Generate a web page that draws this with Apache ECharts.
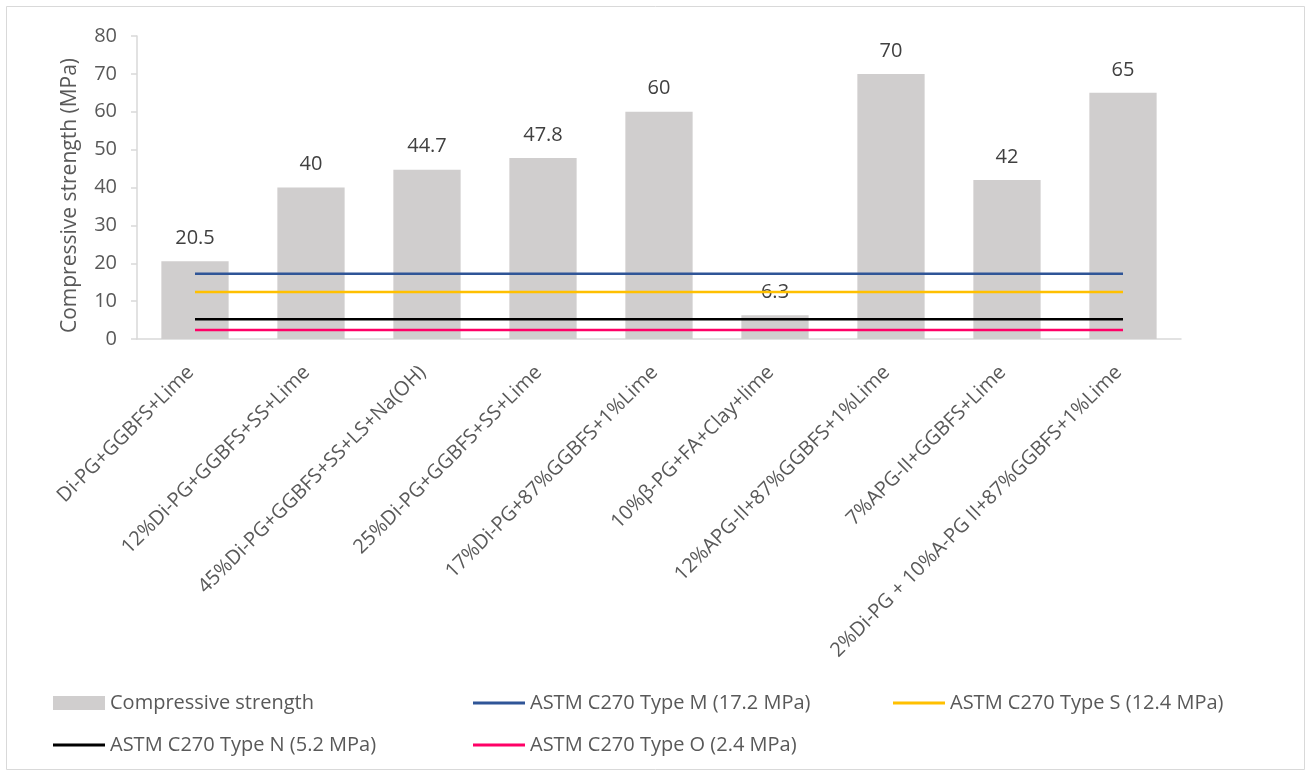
<!DOCTYPE html>
<html>
<head>
<meta charset="utf-8">
<script src="https://cdn.jsdelivr.net/npm/echarts@6/dist/echarts.min.js"></script>
<style>
  html, body { margin: 0; padding: 0; background: #fff; }
  #chart { width: 1311px; height: 776px; }
</style>
</head>
<body>
<div id="chart"></div>
<script>
// Mix designs (x categories)
var categories = [
  'Di-PG+GGBFS+Lime',
  '12%Di-PG+GGBFS+SS+Lime',
  '45%Di-PG+GGBFS+SS+LS+Na(OH)',
  '25%Di-PG+GGBFS+SS+Lime',
  '17%Di-PG+87%GGBFS+1%Lime',
  '10%β-PG+FA+Clay+lime',
  '12%APG-II+87%GGBFS+1%Lime',
  '7%APG-II+GGBFS+Lime',
  '2%Di-PG + 10%A-PG II+87%GGBFS+1%Lime'
];

// Compressive strength of each mix (MPa)
var strength = [20.5, 40, 44.7, 47.8, 60, 6.3, 70, 42, 65];

// ASTM C270 mortar type minimums (MPa), one value per category
var typeM = [17.2, 17.2, 17.2, 17.2, 17.2, 17.2, 17.2, 17.2, 17.2];
var typeS = [12.4, 12.4, 12.4, 12.4, 12.4, 12.4, 12.4, 12.4, 12.4];
var typeN = [5.2, 5.2, 5.2, 5.2, 5.2, 5.2, 5.2, 5.2, 5.2];
var typeO = [2.4, 2.4, 2.4, 2.4, 2.4, 2.4, 2.4, 2.4, 2.4];

var seriesNames = [
  'Compressive strength',
  'ASTM C270 Type M (17.2 MPa)',
  'ASTM C270 Type S (12.4 MPa)',
  'ASTM C270 Type N (5.2 MPa)',
  'ASTM C270 Type O (2.4 MPa)'
];

var FONT = '"Open Sans", "Noto Sans", sans-serif';
var TEXT = '#595959';
// thin bar used as the legend marker of the reference lines
var LINE_ICON = 'path://M0,0H52V3H0Z';

function refLine(name, data, color) {
  return {
    name: name,
    type: 'line',
    data: data,
    symbol: 'none',
    showSymbol: false,
    z: 3,
    lineStyle: { color: color, width: 2.5 },
    itemStyle: { color: color },
    silent: true,
    animation: false
  };
}

var legendText = {
  color: TEXT,
  fontFamily: FONT,
  fontSize: 20,
  width: 363,
  lineHeight: 22
};

function legendRow(top, items) {
  return {
    left: 48,
    top: top,
    width: 1260,
    itemWidth: 52,
    itemHeight: 14,
    itemGap: 0,
    symbolKeepAspect: true,
    selectedMode: false,
    textStyle: legendText,
    data: items
  };
}

var chart = echarts.init(document.getElementById('chart'), null, { renderer: 'canvas' });

chart.setOption({
  animation: false,
  backgroundColor: '#ffffff',
  textStyle: { fontFamily: FONT },
  graphic: [{
    type: 'rect',
    shape: { x: 6.5, y: 6.5, width: 1298, height: 763 },
    style: { fill: 'none', stroke: '#d9d9d9', lineWidth: 1 },
    silent: true,
    z: -1
  }],
  grid: { left: 137, right: 130, top: 36, bottom: 437, containLabel: false },
  legend: [
    legendRow(687, [
      { name: seriesNames[0], icon: 'rect' },
      { name: seriesNames[1], icon: LINE_ICON },
      { name: seriesNames[2], icon: LINE_ICON }
    ]),
    legendRow(729, [
      { name: seriesNames[3], icon: LINE_ICON },
      { name: seriesNames[4], icon: LINE_ICON }
    ])
  ],
  xAxis: {
    type: 'category',
    data: categories,
    axisLine: { show: true, lineStyle: { color: '#d9d9d9', width: 1.5 } },
    axisTick: { show: false },
    axisLabel: {
      interval: 0,
      rotate: 45,
      margin: 26,
      padding: [0, 6, 0, 0],
      color: TEXT,
      fontFamily: FONT,
      fontSize: 20
    },
    splitLine: { show: false }
  },
  yAxis: {
    type: 'value',
    min: 0,
    max: 80,
    interval: 10,
    name: 'Compressive strength (MPa)',
    nameLocation: 'middle',
    nameGap: 56,
    nameTextStyle: { color: TEXT, fontFamily: FONT, fontSize: 21, padding: [0, 16, 0, 0] },
    axisLine: { show: true, lineStyle: { color: '#d9d9d9', width: 1.5 } },
    axisTick: { show: true, length: 6, lineStyle: { color: '#d9d9d9', width: 1.5 } },
    axisLabel: { color: TEXT, fontFamily: FONT, fontSize: 20, margin: 20 },
    splitLine: { show: false }
  },
  series: [
    {
      name: seriesNames[0],
      type: 'bar',
      data: strength,
      barWidth: '58%',
      itemStyle: { color: '#d0cece' },
      z: 2,
      label: {
        show: true,
        position: 'top',
        distance: 13,
        color: '#404040',
        fontFamily: FONT,
        fontSize: 20
      }
    },
    refLine(seriesNames[1], typeM, '#2f5597'),
    refLine(seriesNames[2], typeS, '#ffc000'),
    refLine(seriesNames[3], typeN, '#000000'),
    refLine(seriesNames[4], typeO, '#ff0066')
  ]
});
</script>
</body>
</html>
